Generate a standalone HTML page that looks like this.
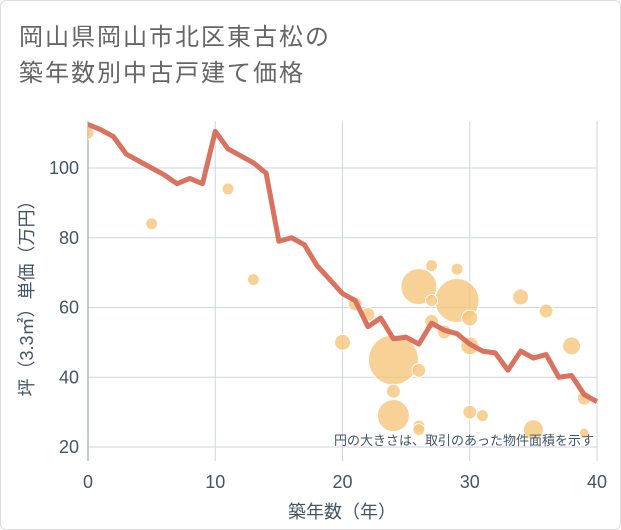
<!DOCTYPE html>
<html><head><meta charset="utf-8"><style>
body{margin:0;background:#fff;}
#card{position:absolute;left:0;top:0;width:619px;height:528px;border:1px solid #ddd;border-radius:6px;background:#fff;overflow:hidden;}
.t{position:absolute;left:18px;font-family:"Liberation Sans","Noto Sans CJK JP",sans-serif;font-size:24px;color:#666;letter-spacing:2px;}
svg text{font-family:"Liberation Sans","Noto Sans CJK JP",sans-serif;}
</style></head><body>
<div id="card">
<div class="t" style="top:16px">岡山県岡山市北区東古松の</div>
<div class="t" style="top:52px">築年数別中古戸建て価格</div>
<svg id="chart" width="621" height="530" style="position:absolute;left:0;top:0">
<defs><clipPath id="pc"><rect x="87" y="110" width="510" height="350"/></clipPath></defs>
<g id="marks" clip-path="url(#pc)"></g>
</svg>
</div>
<script>
const xTicks=[0,10,20,30,40];
const yTicks=[20,40,60,80,100];
const lineAges=[0,1,2,3,4,5,6,7,8,9,10,11,12,13,14,15,16,17,18,19,20,21,22,23,24,25,26,27,28,29,30,31,32,33,34,35,36,37,38,39,40];
const linePrices=[112.5,111,109,104,102,100,98,95.5,97,95.5,110.5,105.5,103.5,101.5,98.5,79,80,78,72,68,64,62,54.5,57,51,51.5,49.5,55.5,53.5,52.5,49.5,47.5,47,42,47.5,45.5,46.5,40,40.5,35,33];
const bubAges=[0,5,11,13,20,21,22,27,26,29,29,27,30,27,28,24,26,30,24,24,26,26,30,31,34,36,38,39,35,39];
const bubPrices=[110,84,94,68,50,61,58,72,66,71,62,62,57,56,53,45,42,49,36,29,26,25,30,29,63,59,49,34,25,24];
const bubAreas=[9,9,9,9,16,12,12,9,81,9,121,9,16,12,12,156,12,20,12,64,9,9,12,9,16,12,20,12,25,6];
const S="http://www.w3.org/2000/svg";
const svg=document.getElementById('chart');
const marks=document.getElementById('marks');
const X0=87,X1=596,Ytop=120,Ybot=460;
const xs=v=>X0+(v-0)/40*(X1-X0);
const ys=v=>446-(v-20)*3.4875;
function mk(t,a,parent){const e=document.createElementNS(S,t);for(const k in a)e.setAttribute(k,a[k]);(parent||svg).appendChild(e);return e;}
xTicks.forEach(t=>{const l=mk('line',{x1:xs(t),x2:xs(t),y1:Ytop,y2:Ybot,stroke:'#cdd6e2','stroke-width':1});

const tx=mk('text',{x:xs(t),y:487,'text-anchor':'middle','font-size':18,fill:'#445566'});tx.textContent=t;
});
yTicks.forEach(t=>{const l=mk('line',{x1:X0,x2:X1,y1:ys(t),y2:ys(t),stroke:'#cdd6e2','stroke-width':1});

const tx=mk('text',{x:78,y:ys(t)+6,'text-anchor':'end','font-size':18,fill:'#445566'});tx.textContent=t;
});
const ax=mk('line',{x1:X0,x2:X0,y1:Ytop,y2:Ybot,stroke:'#8899aa','stroke-width':1});

svg.appendChild(marks);
bubAges.forEach((a,i)=>{const c=mk('circle',{cx:xs(a),cy:ys(bubPrices[i]),r:Math.sqrt(bubAreas[i])*2,fill:'#f5c57a','fill-opacity':0.8,stroke:'#fff','stroke-width':1},marks);
});
const p=mk('polyline',{points:lineAges.map((a,i)=>xs(a)+','+ys(linePrices[i])).join(' '),fill:'none',stroke:'#d9725e','stroke-width':5,'stroke-linejoin':'round'},marks);

const n=mk('text',{x:593,y:444,'text-anchor':'end','font-size':13,fill:'#445566'});n.textContent='円の大きさは、取引のあった物件面積を示す';

const xt=mk('text',{x:341,y:517,'text-anchor':'middle','font-size':18,fill:'#445566'});xt.textContent='築年数（年）';

const yt=mk('text',{x:0,y:0,'text-anchor':'middle','font-size':18,fill:'#445566',transform:'translate(32,293) rotate(-90)'});yt.textContent='坪（3.3㎡）単価（万円）';

</script>
</body></html>
